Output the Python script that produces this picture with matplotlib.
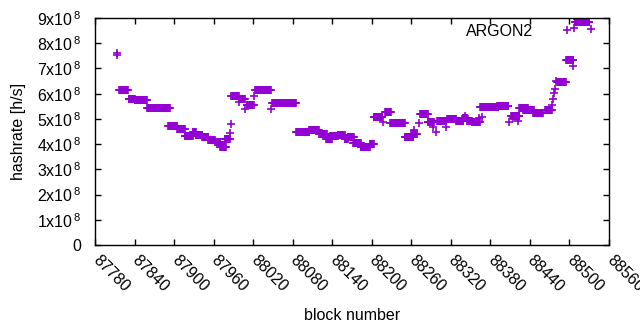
import numpy as np
import matplotlib
matplotlib.use("Agg")
import matplotlib.pyplot as plt
from matplotlib.lines import Line2D

plt.rcParams['font.family'] = ['Liberation Sans', 'DejaVu Sans']
plt.rcParams['mathtext.fontset'] = 'custom'
plt.rcParams['mathtext.rm'] = 'Liberation Sans'
plt.rcParams['mathtext.it'] = 'Liberation Sans:italic'
plt.rcParams['mathtext.bf'] = 'Liberation Sans:bold'

# Plateaus: block ranges sharing one hashrate (x1e8 h/s)
seg_start = [87817, 87831, 87840, 87859, 87893, 87905, 87916, 87928, 87933, 87943,
             87952, 87962, 87970, 87977, 87987, 87998, 88010, 88023, 88049, 88085,
             88105, 88120, 88131, 88137, 88148, 88159, 88164, 88172, 88183, 88197,
             88203, 88220, 88228, 88250, 88260, 88273, 88285, 88299, 88314, 88328,
             88338, 88345, 88352, 88364, 88390, 88412, 88424, 88430, 88445, 88463,
             88481, 88495, 88508]
seg_end = [87830, 87840, 87859, 87894, 87905, 87916, 87928, 87933, 87943, 87952,
           87962, 87970, 87979, 87985, 87998, 88007, 88021, 88047, 88085, 88105,
           88120, 88132, 88139, 88148, 88159, 88164, 88173, 88183, 88197, 88203,
           88216, 88229, 88250, 88263, 88268, 88285, 88294, 88312, 88328, 88339,
           88344, 88352, 88364, 88392, 88407, 88424, 88437, 88446, 88460, 88473,
           88494, 88506, 88530]
seg_rate = [6.15, 5.79, 5.75, 5.43, 4.73, 4.60, 4.32, 4.50, 4.38, 4.27,
            4.17, 4.08, 3.87, 4.20, 5.91, 5.78, 5.54, 6.15, 5.63, 4.48,
            4.55, 4.40, 4.20, 4.33, 4.37, 4.20, 4.30, 4.05, 3.90, 4.02,
            5.08, 5.26, 4.84, 4.27, 4.40, 5.20, 4.88, 4.90, 5.00, 4.90,
            5.02, 4.92, 4.87, 5.48, 5.53, 5.13, 5.43, 5.37, 5.25, 5.34,
            6.47, 7.32, 8.85]

# Isolated blocks
pt_block = [87813, 87814, 87891, 87985, 87987, 87999, 88008, 88021, 88047, 88217,
            88264, 88271, 88293, 88297, 88312, 88341, 88363, 88367, 88408, 88414,
            88422, 88473, 88475, 88477, 88478, 88480, 88506, 88507, 88511, 88532]
pt_rate = [7.62, 7.55, 4.70, 4.45, 4.80, 5.65, 5.38, 5.90, 5.38, 4.89,
           4.56, 4.83, 4.68, 4.50, 4.67, 5.12, 5.03, 5.09, 4.86, 5.03,
           4.92, 5.56, 5.78, 6.02, 6.18, 6.52, 7.08, 8.60, 8.97, 8.58]

xticks = list(range(87780, 88561, 60))
yticks = list(range(0, 10))
series_label = "ARGON2"

blocks, rates = [], []
for s, e, r in zip(seg_start, seg_end, seg_rate):
    for b in range(s, e + 1):
        blocks.append(b)
        rates.append(r * 1e8)
blocks += pt_block
rates += [r * 1e8 for r in pt_rate]

color = '#9400D3'
fig = plt.figure(figsize=(6.4, 3.3), dpi=100)
ax = fig.add_axes([95/640, 1-245/330, (609-95)/640, (245-18)/330])
ax.plot(blocks, rates, linestyle='none', marker='+', markersize=6,
        markeredgewidth=1.2, color=color)

ax.set_xlim(xticks[0], xticks[-1])
ax.set_ylim(0, 9e8)
ax.set_xticks(xticks)
ax.set_xticklabels([str(t) for t in xticks], rotation=-45, ha='left', va='center',
                   rotation_mode='anchor')
ax.set_yticks([v * 1e8 for v in yticks])
ax.set_yticklabels(['0'] + [r'%dx10$^{\,8}$' % v for v in yticks[1:]])
ax.tick_params(direction='in', length=4, width=1, top=True, right=True,
               labelsize=11.5, colors='black')
ax.tick_params(axis='y', pad=10)
ax.tick_params(axis='x', pad=9)
for sp in ax.spines.values():
    sp.set_linewidth(1)
ax.set_xlabel('block number', fontsize=11.5, labelpad=10)
ax.set_ylabel('hashrate [h/s]', fontsize=11.5, labelpad=8)

handle = Line2D([], [], linestyle='none', marker='+', markersize=6,
                markeredgewidth=1.2, color=color)
ax.legend([handle], [series_label], loc='center right', markerfirst=False,
          frameon=False, fontsize=11.5, borderpad=0, borderaxespad=0,
          handlelength=2, handletextpad=1.1,
          bbox_to_anchor=((582.7-95)/514, (245-31.5)/227))

fig.savefig('out.png', dpi=100)
